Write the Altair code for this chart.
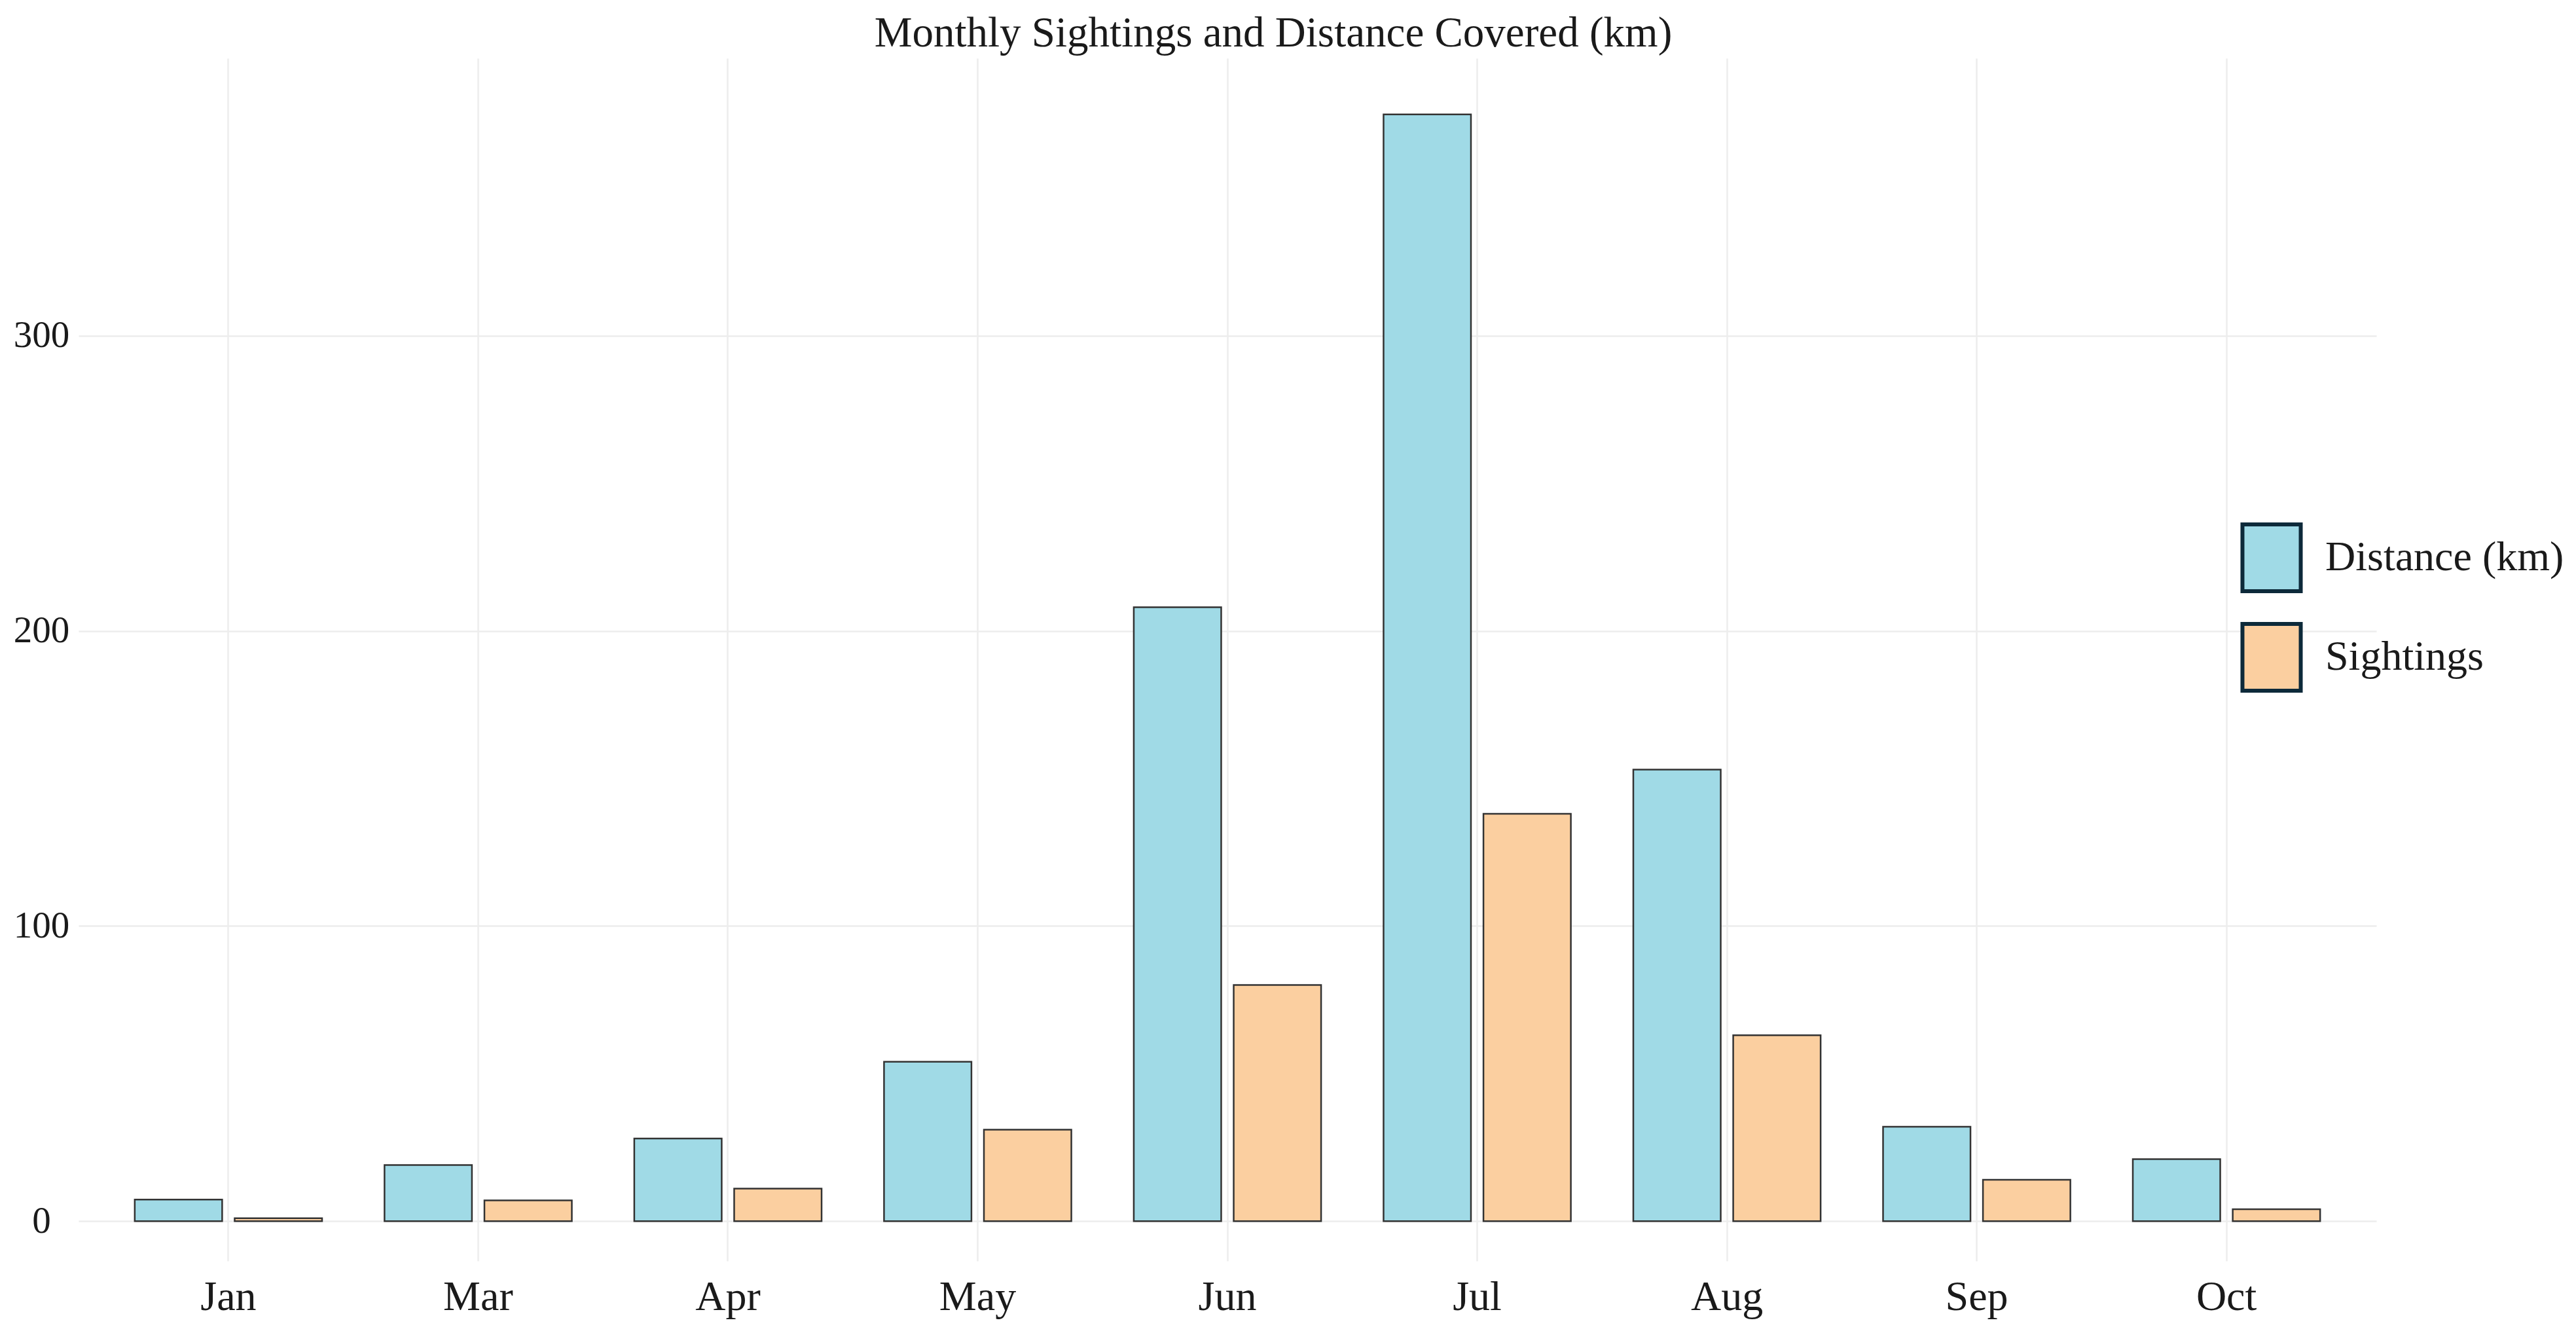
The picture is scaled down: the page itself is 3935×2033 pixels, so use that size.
import altair as alt
import pandas as pd

months = ["Jan", "Mar", "Apr", "May", "Jun", "Jul", "Aug", "Sep", "Oct"]
distance = [7.3, 19, 28, 54, 208, 375, 153, 32, 21]
sightings = [1, 7, 11, 31, 80, 138, 63, 14, 4]
series = ["Distance (km)", "Sightings"]
colors = ["#A0DAE6", "#FBCFA0"]
y_ticks = [0, 100, 200, 300]

rows = []
for m, d, s in zip(months, distance, sightings):
    rows.append({"Month": m, "Series": series[0], "Value": d})
    rows.append({"Month": m, "Series": series[1], "Value": s})
df = pd.DataFrame(rows)

FONT = "Liberation Serif"
TXT = "#1a1a1a"
GRID = "#EDEDED"

chart = alt.Chart(df).mark_bar(stroke="#333333", strokeWidth=2.5).encode(
    x=alt.X(
        "Month:N", sort=months,
        scale=alt.Scale(paddingInner=0, paddingOuter=0.1),
        axis=alt.Axis(title=None, labelAngle=0, labelFontSize=64, labelFont=FONT,
                      labelColor=TXT, labelPadding=23, ticks=False, tickSize=0,
                      domain=False, grid=True, gridColor=GRID, gridWidth=2.5),
    ),
    xOffset=alt.XOffset("Series:N", sort=series,
                        scale=alt.Scale(paddingInner=0.125, paddingOuter=0.3125)),
    y=alt.Y(
        "Value:Q",
        scale=alt.Scale(domain=[-13.5, 394], nice=False),
        axis=alt.Axis(title=None, values=y_ticks, labelAlign="center", labelPadding=57,
                      labelFontSize=57, labelFont=FONT, labelColor=TXT, ticks=False,
                      tickSize=0, domain=False, grid=True, gridColor=GRID, gridWidth=2.5),
    ),
    color=alt.Color(
        "Series:N", sort=series,
        scale=alt.Scale(domain=series, range=colors),
        legend=alt.Legend(title=None, orient="none", legendX=3296, legendY=709,
                          symbolType="M-0.873,-1H0.873V1H-0.873Z", symbolSize=10404,
                          symbolStrokeColor="#0D2A3A", symbolStrokeWidth=6,
                          symbolOpacity=1, labelFontSize=64, labelFont=FONT,
                          labelColor=TXT, labelOffset=28, labelLimit=2000,
                          rowPadding=26, padding=0),
    ),
).properties(
    width=3510,
    height=1837,
    title=alt.TitleParams("Monthly Sightings and Distance Covered (km)", font=FONT,
                          fontSize=65, fontWeight="normal", color=TXT, anchor="middle",
                          dx=70, dy=64, offset=17, baseline="alphabetic"),
    padding={"left": 112, "top": 81, "right": 297, "bottom": 99},
    autosize=alt.AutoSizeParams(type="none"),
).configure_view(stroke=None)

chart.save("out.html", embed_options={"renderer": "svg", "actions": False})
